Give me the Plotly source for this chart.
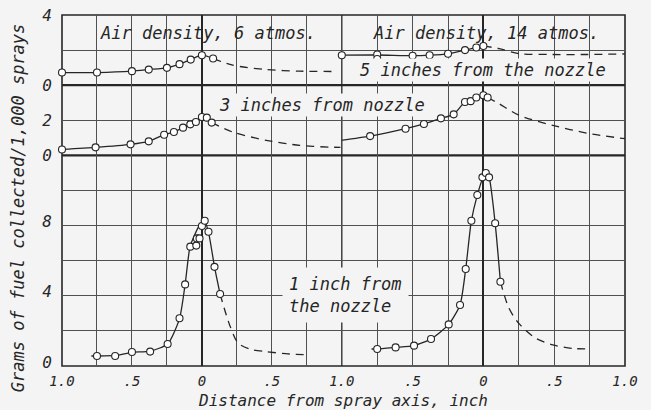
import plotly.graph_objects as go
from plotly.subplots import make_subplots

# ---------------- data ----------------
# Top row: 5 inches from the nozzle
x5_6_pts = [-1.0, -0.75, -0.5, -0.38, -0.25, -0.16, -0.08, 0.0, 0.08]
y5_6_pts = [0.72, 0.72, 0.8, 0.89, 0.99, 1.2, 1.46, 1.71, 1.52]
x5_6_dash = [0.08, 0.22, 0.46, 0.7, 0.95]
y5_6_dash = [1.52, 1.14, 0.89, 0.8, 0.78]

x5_14_pts = [-1.0, -0.75, -0.75, -0.5, -0.38, -0.25, -0.13, -0.05, 0.0]
y5_14_pts = [1.71, 1.75, 1.49, 1.68, 1.71, 1.79, 2.0, 2.15, 2.23]
x5_14_line = [-1.03, -0.75, -0.5, -0.38, -0.25, -0.13, -0.05, 0.0]
y5_14_line = [1.71, 1.72, 1.68, 1.71, 1.79, 2.0, 2.15, 2.23]
x5_14_dash = [0.0, 0.11, 0.25, 0.49, 0.73, 1.0]
y5_14_dash = [2.23, 2.09, 1.8, 1.75, 1.75, 1.78]

# Middle row: 3 inches from nozzle
x3_6_pts = [-1.0, -0.76, -0.51, -0.38, -0.27, -0.2, -0.135, -0.083, -0.043, 0.0, 0.035, 0.07]
y3_6_pts = [0.34, 0.46, 0.63, 0.8, 1.18, 1.33, 1.58, 1.77, 1.9, 2.19, 2.15, 1.87]
x3_6_dash = [0.07, 0.22, 0.46, 0.7, 0.91, 0.99]
y3_6_dash = [1.87, 1.33, 0.86, 0.57, 0.47, 0.46]

x3_14_pts = [-1.04, -0.8, -0.55, -0.42, -0.3, -0.21, -0.13, -0.09, -0.05, 0.0, 0.03]
y3_14_pts = [0.82, 1.1, 1.52, 1.79, 2.11, 2.34, 3.04, 3.09, 3.3, 3.43, 3.3]
x3_14_dash = [0.03, 0.11, 0.25, 0.49, 0.73, 1.0]
y3_14_dash = [3.3, 2.95, 2.29, 1.71, 1.27, 0.95]

# Bottom row: 1 inch from the nozzle
x1_6_pts = [-0.75, -0.62, -0.5, -0.37, -0.245, -0.16, -0.12, -0.083, -0.04, -0.036, -0.017, 0.0, 0.02, 0.047, 0.09, 0.13]
y1_6_pts = [0.57, 0.57, 0.8, 0.82, 1.25, 2.72, 4.65, 6.8, 6.86, 7.27, 7.27, 7.98, 8.28, 7.65, 5.65, 4.1]
x1_6_line = [-0.79, -0.75, -0.62, -0.5, -0.37, -0.245, -0.16, -0.12, -0.085, -0.05, -0.02, 0.015, 0.045, 0.09, 0.13]
y1_6_line = [0.57, 0.57, 0.6, 0.78, 0.85, 1.25, 2.7, 4.65, 6.8, 7.5, 8.0, 8.3, 7.7, 5.65, 4.1]
x1_6_dash = [0.13, 0.2, 0.26, 0.35, 0.46, 0.6, 0.77]
y1_6_dash = [4.1, 2.3, 1.3, 0.95, 0.82, 0.7, 0.63]

x1_14_pts = [-0.75, -0.62, -0.49, -0.37, -0.245, -0.165, -0.125, -0.085, -0.043, -0.007, 0.017, 0.04, 0.083, 0.12]
y1_14_pts = [0.97, 1.06, 1.16, 1.54, 2.37, 3.48, 5.53, 8.28, 9.74, 10.75, 11.0, 10.75, 8.13, 4.8]
x1_14_line = [-0.79, -0.75, -0.62, -0.49, -0.37, -0.245, -0.165, -0.125, -0.085, -0.043, 0.0, 0.017, 0.04, 0.083, 0.12]
y1_14_line = [0.97, 0.97, 1.06, 1.16, 1.54, 2.37, 3.48, 5.53, 8.28, 9.74, 10.8, 11.0, 10.75, 8.13, 4.8]
x1_14_dash = [0.12, 0.18, 0.25, 0.37, 0.49, 0.63, 0.75]
y1_14_dash = [4.8, 3.3, 2.43, 1.58, 1.2, 1.0, 0.97]

x_tickvals = [-1.0, -0.75, -0.5, -0.25, 0.0, 0.25, 0.5, 0.75, 1.0]
x_ticktext_left = ["1.0", "", ".5", "", "0", "", ".5", "", "1.0"]
x_ticktext_right = ["", "", ".5", "", "0", "", ".5", "", "1.0"]

# ---------------- style ----------------
BG = "#f4f4f4"
INK = "#262626"
GRID = "#505050"
FONT = "DejaVu Sans Mono"

fig = make_subplots(rows=3, cols=2, row_heights=[0.2, 0.2, 0.6], column_widths=[0.497, 0.503],
                    horizontal_spacing=0, vertical_spacing=0)

def add_panel(row, col, px, py, dx, dy, lx=None, ly=None):
    if lx is None:
        lx, ly = px, py
    fig.add_trace(go.Scatter(x=lx, y=ly, mode="lines",
                             line=dict(color=INK, width=1.3, shape="spline", smoothing=0.6),
                             showlegend=False, hoverinfo="skip"), row=row, col=col)
    fig.add_trace(go.Scatter(x=dx, y=dy, mode="lines",
                             line=dict(color=INK, width=1.3, dash="8px,6px", shape="spline", smoothing=0.8),
                             showlegend=False, hoverinfo="skip"), row=row, col=col)
    fig.add_trace(go.Scatter(x=px, y=py, mode="markers", cliponaxis=False,
                             marker=dict(symbol="circle", size=7, color="white",
                                         line=dict(color=INK, width=1.1)),
                             showlegend=False), row=row, col=col)

add_panel(1, 1, x5_6_pts, y5_6_pts, x5_6_dash, y5_6_dash)
add_panel(1, 2, x5_14_pts, y5_14_pts, x5_14_dash, y5_14_dash, x5_14_line, y5_14_line)
add_panel(2, 1, x3_6_pts, y3_6_pts, x3_6_dash, y3_6_dash)
add_panel(2, 2, x3_14_pts, y3_14_pts, x3_14_dash, y3_14_dash)
add_panel(3, 1, x1_6_pts, y1_6_pts, x1_6_dash, y1_6_dash, x1_6_line, y1_6_line)
add_panel(3, 2, x1_14_pts, y1_14_pts, x1_14_dash, y1_14_dash, x1_14_line, y1_14_line)

for r in (1, 2, 3):
    for c in (1, 2):
        fig.update_xaxes(row=r, col=c, range=[-1, 1], tickvals=x_tickvals,
                         ticktext=(x_ticktext_left if c == 1 else x_ticktext_right),
                         showticklabels=(r == 3), ticks="", automargin=False,
                         showgrid=True, gridcolor=GRID, gridwidth=1,
                         zeroline=True, zerolinecolor=INK, zerolinewidth=1.6,
                         showline=False, ticklabelstandoff=5,
                         tickfont=dict(family=FONT, size=14, color=INK, style="italic"),
                         fixedrange=True)

y_specs = {
    1: dict(range=[0, 4], tickvals=[0, 2, 4], ticktext=["0", "", "4"]),
    2: dict(range=[0, 4], tickvals=[0, 2, 4], ticktext=["0", "2", ""]),
    3: dict(range=[0, 12], tickvals=[0, 2, 4, 6, 8, 10, 12], ticktext=["0", "", "4", "", "8", "", ""]),
}
for r in (1, 2, 3):
    for c in (1, 2):
        fig.update_yaxes(row=r, col=c, **y_specs[r], showticklabels=(c == 1), ticks="",
                         automargin=False,
                         showgrid=True, gridcolor=GRID, gridwidth=1,
                         zeroline=False, showline=False,
                         tickfont=dict(family=FONT, size=16, color=INK, style="italic"),
                         ticklabelstandoff=9, ticklabelshift=(-4 if r == 3 else 0),
                         fixedrange=True)

# frame and panel separators
shapes = [
    dict(type="rect", xref="paper", yref="paper", x0=0, x1=1, y0=0, y1=1,
         line=dict(color=INK, width=1.6), layer="below"),
    dict(type="line", xref="paper", yref="paper", x0=0, x1=1, y0=0.6, y1=0.6,
         line=dict(color=INK, width=2.2), layer="below"),
    dict(type="line", xref="paper", yref="paper", x0=0, x1=1, y0=0.8, y1=0.8,
         line=dict(color=INK, width=2.2), layer="below"),
    dict(type="line", xref="paper", yref="paper", x0=0.497, x1=0.497, y0=0, y1=1,
         line=dict(color=INK, width=1.3), layer="below"),
]
fig.update_layout(shapes=shapes)

afont = dict(family=FONT, size=17, color=INK, style="italic")
ann = [
    dict(text="Air density, 6 atmos.", xref="x", yref="y", x=0.04, y=2.95),
    dict(text="Air density, 14 atmos.", xref="x2", yref="y2", x=0.02, y=2.95),
    dict(text="5 inches from the nozzle", xref="x2", yref="y2", x=0.0, y=0.87, bgcolor=BG),
    dict(text="3 inches from nozzle", xref="x3", yref="y3", x=0.86, y=2.86, bgcolor=BG),
    dict(text="1 inch from<br>the nozzle", xref="x5", yref="y5", x=0.57, y=4.07,
         xanchor="left", align="left", bgcolor=BG, borderpad=6),
]
for a in ann:
    a.setdefault("xanchor", "center")
    fig.add_annotation(**a, yanchor="middle", showarrow=False, font=afont)

fig.add_annotation(text="Grams of fuel collected/1,000 sprays", xref="paper", yref="paper",
                   x=-0.078, y=0.45, xanchor="center", yanchor="middle",
                   textangle=-90, showarrow=False,
                   font=dict(family=FONT, size=17, color=INK, style="italic"))
fig.add_annotation(text="Distance from spray axis, inch", xref="paper", yref="paper",
                   x=0.499, y=-0.097, xanchor="center", yanchor="middle", showarrow=False,
                   font=dict(family=FONT, size=16, color=INK, style="italic"))

fig.update_layout(width=651, height=410, margin=dict(l=62, r=26, t=15, b=44),
                  paper_bgcolor=BG, plot_bgcolor=BG, showlegend=False)

fig.write_html("out.html", config={"displayModeBar": False},
               post_script="document.body.style.margin='0';document.body.style.background='%s';" % BG)
